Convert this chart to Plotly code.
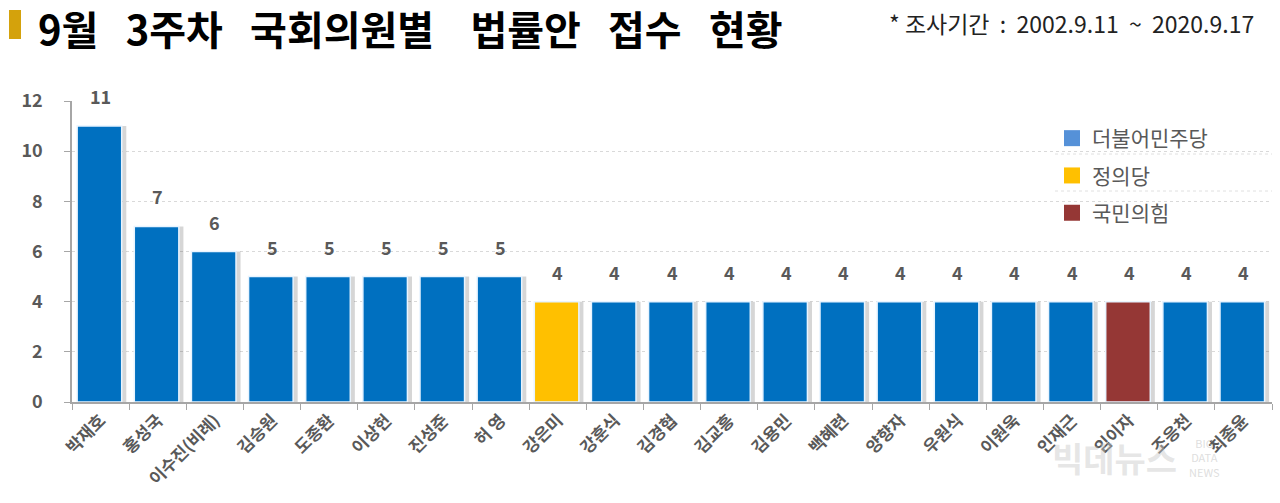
import plotly.graph_objects as go

names = ["박재호", "홍성국", "이수진(비례)", "김승원", "도종환", "이상헌", "진성준", "허 영",
         "강은미", "강훈식", "김경협", "김교흥", "김용민", "백혜련", "양향자", "우원식",
         "이원욱", "인재근", "임이자", "조응천", "최종윤"]
counts = [11, 7, 6, 5, 5, 5, 5, 5, 4, 4, 4, 4, 4, 4, 4, 4, 4, 4, 4, 4, 4]
parties = ["더불어민주당"] * 8 + ["정의당"] + ["더불어민주당"] * 9 + ["국민의힘"] + ["더불어민주당"] * 2

party_order = ["더불어민주당", "정의당", "국민의힘"]
party_colors = {"더불어민주당": "#0070C0", "정의당": "#FFC000", "국민의힘": "#953735"}
legend_colors = {"더불어민주당": "#5591D8", "정의당": "#FFC000", "국민의힘": "#953735"}

FONT = "Noto Sans CJK KR"
GRAY = "#595959"

W, H = 1280, 503
# plot area in screen pixels
SX0, SX1, SY0, SY1 = 72, 1272, 101, 402
L, R = SX0, W - SX1
T, B = SY0, H - SY1
PW, PH = W - L - R, H - T - B


def px(sx):
    return (sx - SX0) / PW


def py(sy):
    return (SY1 - sy) / PH


fig = go.Figure()

# soft shadow behind bars
fig.add_trace(go.Bar(
    x=names, y=counts, width=0.78, offset=-0.33,
    marker=dict(color="rgba(0,0,0,0.16)", line=dict(width=0)),
    showlegend=False, hoverinfo="skip"))

fig.add_trace(go.Bar(
    x=names, y=counts, width=0.78, offset=-0.41,
    marker=dict(color=[party_colors[p] for p in parties],
                line=dict(color="#E8F4FF", width=1.5)),
    showlegend=False))

for p in party_order:
    fig.add_trace(go.Scatter(x=[None], y=[None], name=p, legendgroup=p, mode="markers",
                             marker=dict(symbol="square", size=16, color=legend_colors[p])))

for n, c in zip(names, counts):
    fig.add_annotation(x=n, y=c, text=f"<b>{c}</b>", showarrow=False,
                       yshift=30, font=dict(family=FONT, size=18, color=GRAY))

fig.update_layout(
    width=W, height=H,
    margin=dict(l=L, r=R, t=T, b=B, autoexpand=False),
    plot_bgcolor="white", paper_bgcolor="white",
    barmode="overlay",
    font=dict(family=FONT, color=GRAY),
    showlegend=True,
    legend=dict(x=px(1052), y=py(118), xanchor="left", yanchor="top",
                font=dict(family=FONT, size=21, color=GRAY),
                itemsizing="trace", tracegroupgap=7,
                bgcolor="rgba(0,0,0,0)"),
)

fig.update_xaxes(
    type="category", showline=True, linecolor="#A6A6A6", linewidth=1.5,
    ticks="outside", tickson="boundaries", ticklen=6, tickcolor="#A6A6A6",
    tickangle=-45, tickfont=dict(family=FONT, size=17, color=GRAY),
    ticktext=[f"<b>{n}</b>" for n in names], tickvals=names,
    showgrid=False, range=[-0.5, len(names) - 0.5], automargin=False)

fig.update_yaxes(
    range=[0, 12], tickvals=[0, 2, 4, 6, 8, 10, 12],
    ticktext=[f"<b>{v}</b>" for v in [0, 2, 4, 6, 8, 10, 12]],
    showline=True, linecolor="#A6A6A6", linewidth=1.5,
    ticks="outside", ticklen=6, tickcolor="#A6A6A6", ticklabelstandoff=18,
    tickfont=dict(family=FONT, size=18, color=GRAY),
    showgrid=True, gridcolor="#D9D9D9", griddash="dot", gridwidth=1,
    zeroline=False, automargin=False)

# legend separators (dotted)
for yy in [154, 191]:
    fig.add_shape(type="line", xref="paper", yref="paper",
                  x0=px(1055), x1=px(1272), y0=py(yy), y1=py(yy),
                  line=dict(color="#E0E0E0", width=1, dash="dot"))

# title decoration
fig.add_shape(type="rect", xref="paper", yref="paper",
              x0=px(9), x1=px(21), y0=py(39), y1=py(10),
              fillcolor="#D4A20C", line=dict(width=0))
sp = "\u00a0" * 3
fig.add_annotation(xref="paper", yref="paper", x=px(36), y=py(28),
                   xanchor="left", yanchor="middle", showarrow=False,
                   text=f"<b>9월{sp}3주차{sp}국회의원별{sp}\u00a0법률안{sp}접수{sp}현황</b>",
                   font=dict(family=FONT, size=40, color="black"))
fig.add_annotation(xref="paper", yref="paper", x=px(1256), y=py(23),
                   xanchor="right", yanchor="middle", showarrow=False,
                   text="* 조사기간\u00a0\u00a0:\u00a0\u00a02002.9.11\u00a0\u00a0~\u00a0\u00a02020.9.17",
                   font=dict(family=FONT, size=23, color="#222222"))

# faint publisher watermark
fig.add_annotation(xref="paper", yref="paper", x=px(1114), y=py(458),
                   xanchor="center", yanchor="middle", showarrow=False,
                   text="<b>빅데뉴스</b>",
                   font=dict(family=FONT, size=34, color="rgba(200,200,200,0.45)"))
fig.add_annotation(xref="paper", yref="paper", x=px(1204), y=py(458),
                   xanchor="center", yanchor="middle", showarrow=False,
                   text="BIG<br>DATA<br>NEWS",
                   font=dict(family=FONT, size=11, color="rgba(200,200,200,0.6)"))

fig.write_html("out.html", config={"displayModeBar": False},
               post_script="document.body.style.margin='0';")
